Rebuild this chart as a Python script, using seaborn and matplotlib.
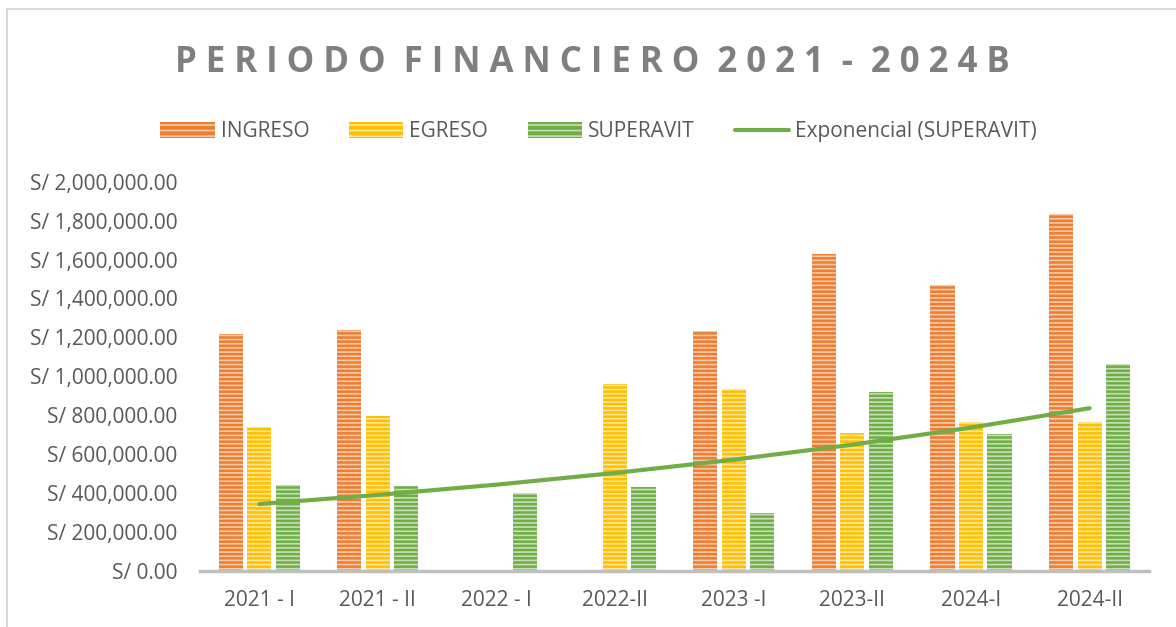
import matplotlib
matplotlib.use("Agg")
import matplotlib.pyplot as plt
import matplotlib.patches as mpatches
from matplotlib.lines import Line2D
from matplotlib.ticker import FuncFormatter
import numpy as np
import pandas as pd
import seaborn as sns

# data
periodos = ["2021 - I", "2021 - II", "2022 - I", "2022-II", "2023 -I", "2023-II", "2024-I", "2024-II"]
ingreso = [1218000, 1239000, 0, 0, 1234000, 1630000, 1470000, 1835000]
egreso = [740000, 797000, 0, 961000, 936000, 710000, 767000, 767000]
superavit = [442000, 437000, 401000, 432000, 298000, 920000, 704000, 1064000]
series = ["INGRESO", "EGRESO", "SUPERAVIT"]

COLORS = {"INGRESO": "#ED7D31", "EGRESO": "#FFC000", "SUPERAVIT": "#70AD47"}
STRIPE = {"INGRESO": "#F8C9A6", "EGRESO": "#FFE699", "SUPERAVIT": "#C5E0B4"}
TEXT = "#595959"

df = pd.DataFrame({"periodo": periodos, "INGRESO": ingreso,
                   "EGRESO": egreso, "SUPERAVIT": superavit})
long = df.melt(id_vars="periodo", var_name="serie", value_name="monto")

sns.set_theme(style="white")
plt.rcParams["font.family"] = ["Open Sans", "DejaVu Sans"]
plt.rcParams["hatch.linewidth"] = 1.2

fig = plt.figure(figsize=(11.76, 6.27), dpi=100)
ax = fig.add_axes([0.170, 0.0893, 0.807, 0.621])

sns.barplot(data=long, x="periodo", y="monto", hue="serie", hue_order=series,
            palette=COLORS, width=0.72, gap=0.15, ax=ax, legend=False,
            linewidth=0, saturation=1)

# striped look: hatch drawn in a lighter tint of each colour
for cont, name in zip(ax.containers, series):
    for bar in cont:
        bar.set_hatch("----")
        bar.set_edgecolor(STRIPE[name])
        bar.set_linewidth(0)

# exponential trend on superavit (Excel style fit)
xs = np.arange(1, len(superavit) + 1)
b, a = np.polyfit(xs, np.log(superavit), 1)
trend = np.exp(a + b * xs)
ax.plot(xs - 1, trend, color="#70AD47", lw=3, solid_capstyle="round", zorder=5)

ax.set_ylim(0, 2000000)
ax.set_xlim(-0.5, len(periodos) - 0.5)
ax.set_yticks(np.arange(0, 2000001, 200000))
ax.yaxis.set_major_formatter(FuncFormatter(lambda v, p: f"S/ {v:,.2f}"))
ax.set_xlabel("")
ax.set_ylabel("")
for s in ["top", "right", "left"]:
    ax.spines[s].set_visible(False)
ax.spines["bottom"].set_color("#BFBFBF")
ax.spines["bottom"].set_linewidth(2.5)
ax.tick_params(axis="both", length=0, labelsize=15, colors=TEXT)
ax.tick_params(axis="y", pad=16)
ax.tick_params(axis="x", pad=14)

fig.text(0.504, 0.9, "P E R I O D O  F I N A N C I E R O  2 0 2 1  -  2 0 2 4 B",
         ha="center", va="center", fontsize=25, fontweight="bold", color="#7F7F7F")

handles = [mpatches.Patch(facecolor=COLORS[n], edgecolor=STRIPE[n], hatch="---",
                          linewidth=0, label=n) for n in series]
handles.append(Line2D([0], [0], color="#70AD47", lw=3, label="Exponencial (SUPERAVIT)"))
fig.legend(handles=handles, loc="center", bbox_to_anchor=(0.509, 0.79), ncol=4,
           frameon=False, fontsize=15, labelcolor=TEXT, handlelength=2.6,
           handleheight=0.8, handletextpad=0.3, columnspacing=1.9)

# outer chart border
fig.add_artist(mpatches.Rectangle((0.006, -0.05), 1.1, 1.036, transform=fig.transFigure,
                                  fill=False, edgecolor="#D9D9D9", lw=1.5))

fig.savefig("out.png", dpi=100)
